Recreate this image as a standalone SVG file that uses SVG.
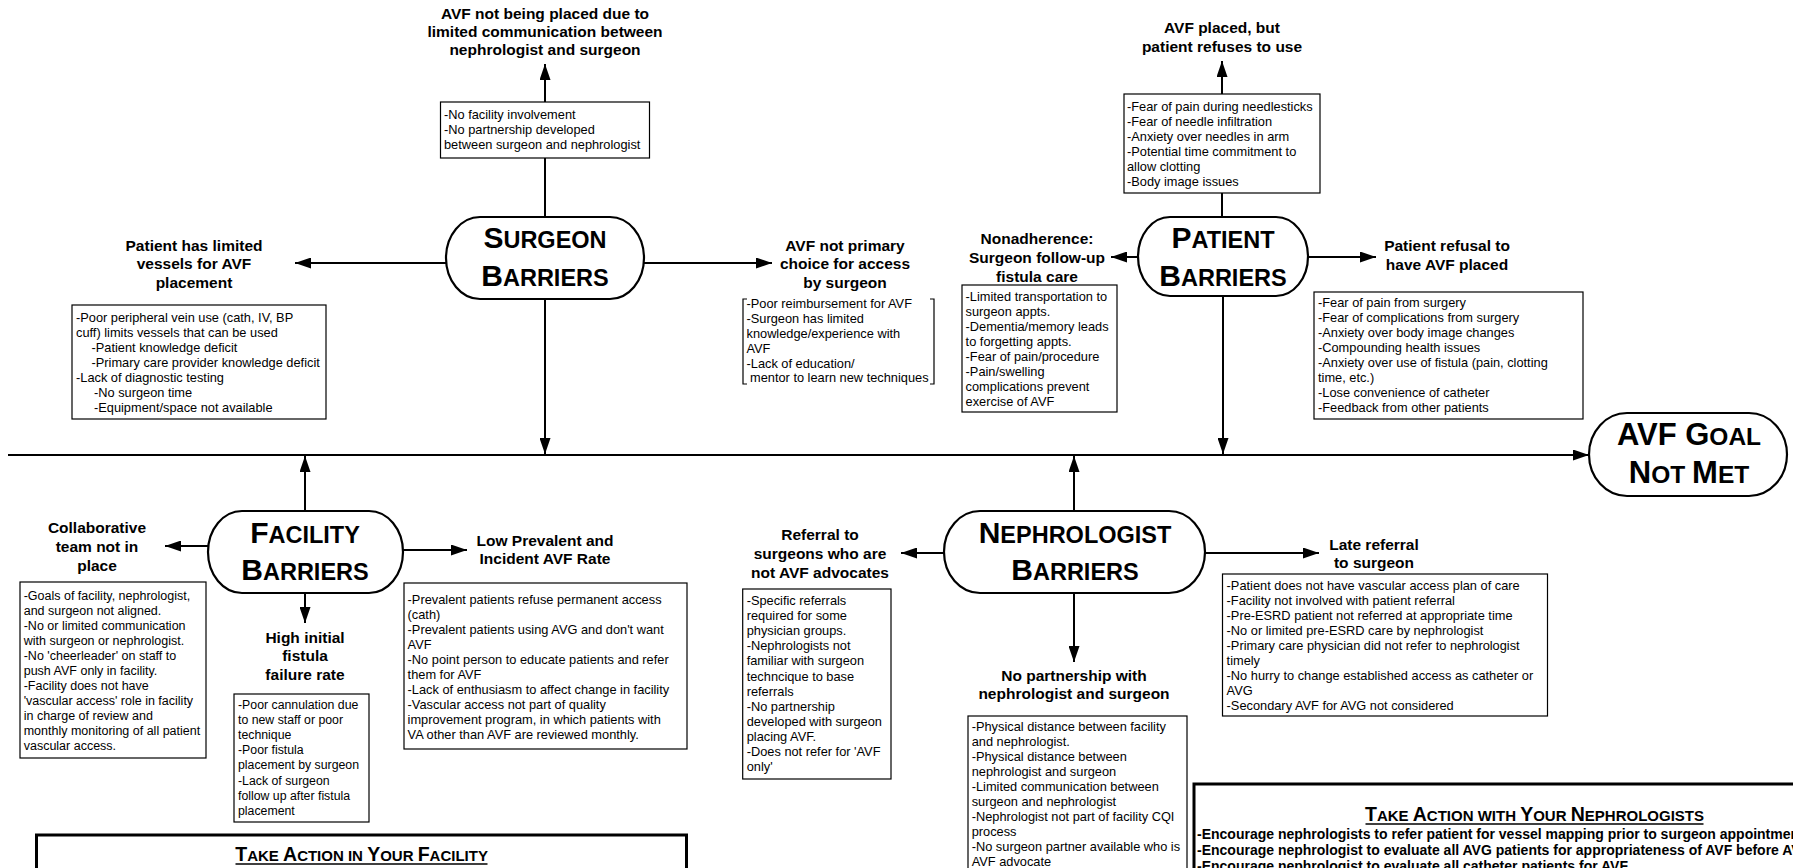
<svg xmlns="http://www.w3.org/2000/svg" width="1793" height="868" viewBox="0 0 1793 868">
<defs>
<style>
text{font-family:"Liberation Sans",Arial,sans-serif;fill:#000}
.lbl{font-weight:bold;font-size:15.5px;text-anchor:middle}
.bt{font-size:12.8px}
.box{fill:#fff;stroke:#000;stroke-width:1.2}
.node{fill:#fff;stroke:#000;stroke-width:2.2}
.nt{font-weight:bold;text-anchor:middle}
.bg{font-size:30px}
.sm{font-size:23.5px}
.conn line{stroke:#000;stroke-width:2;fill:none}
.brk{fill:none;stroke:#000;stroke-width:1.2}
.act{fill:#fff;stroke:#000;stroke-width:3}
.at{font-weight:bold;text-anchor:middle}
.ab{font-size:19.5px}
.as{font-size:15px}
.ul{stroke:#000;stroke-width:1.5}
.al{font-weight:bold;font-size:14px}
</style>
<marker id="ah" viewBox="0 0 16 11" refX="16" refY="5.5" markerWidth="16" markerHeight="11" markerUnits="userSpaceOnUse" orient="auto"><path d="M0,0 L16,5.5 L0,11 z" fill="#000"/></marker>
</defs>
<rect x="0" y="0" width="1793" height="868" fill="#fff"/>

<g id="connectors" class="conn">
<line x1="8" y1="455" x2="1589" y2="455" marker-end="url(#ah)"/>
<line x1="545" y1="217" x2="545" y2="64" marker-end="url(#ah)"/>
<line x1="545" y1="299" x2="545" y2="454" marker-end="url(#ah)"/>
<line x1="446" y1="263" x2="295" y2="263" marker-end="url(#ah)"/>
<line x1="644" y1="263" x2="772" y2="263" marker-end="url(#ah)"/>
<line x1="1222" y1="217" x2="1222" y2="61" marker-end="url(#ah)"/>
<line x1="1223" y1="296" x2="1223" y2="454" marker-end="url(#ah)"/>
<line x1="1138" y1="257" x2="1111" y2="257" marker-end="url(#ah)"/>
<line x1="1308" y1="257" x2="1376" y2="257" marker-end="url(#ah)"/>
<line x1="305" y1="511" x2="305" y2="456" marker-end="url(#ah)"/>
<line x1="208" y1="546" x2="165" y2="546" marker-end="url(#ah)"/>
<line x1="403" y1="550" x2="467" y2="550" marker-end="url(#ah)"/>
<line x1="305" y1="593" x2="305" y2="623" marker-end="url(#ah)"/>
<line x1="1074" y1="511" x2="1074" y2="456" marker-end="url(#ah)"/>
<line x1="944" y1="553" x2="901" y2="553" marker-end="url(#ah)"/>
<line x1="1205" y1="553" x2="1319" y2="553" marker-end="url(#ah)"/>
<line x1="1074" y1="593" x2="1074" y2="662" marker-end="url(#ah)"/>
</g>

<g id="surgeon-barriers">
<rect class="node" x="446" y="217" width="198" height="82" rx="34" ry="41"/>
<text class="nt" x="545" y="248"><tspan class="bg">S</tspan><tspan class="sm">URGEON</tspan></text>
<text class="nt" x="545" y="286"><tspan class="bg">B</tspan><tspan class="sm">ARRIERS</tspan></text>
</g>

<g id="surgeon-communication">
<text class="lbl" x="545" y="18.5">AVF not being placed due to</text>
<text class="lbl" x="545" y="36.8">limited communication between</text>
<text class="lbl" x="545" y="55.1">nephrologist and surgeon</text>
<rect class="box" x="440.5" y="102" width="209" height="56"/>
<text class="bt" x="444" y="119">-No facility involvement</text>
<text class="bt" x="444" y="134">-No partnership developed</text>
<text class="bt" x="444" y="149">between surgeon and nephrologist</text>
</g>

<g id="surgeon-vessels">
<text class="lbl" x="194" y="250.5">Patient has limited</text>
<text class="lbl" x="194" y="269">vessels for AVF</text>
<text class="lbl" x="194" y="287.5">placement</text>
<rect class="box" x="72" y="305" width="254" height="114"/>
<text class="bt" x="76" y="322">-Poor peripheral vein use (cath, IV, BP</text>
<text class="bt" x="76" y="337">cuff) limits vessels that can be used</text>
<text class="bt" x="91.5" y="352">-Patient knowledge deficit</text>
<text class="bt" x="91.5" y="367">-Primary care provider knowledge deficit</text>
<text class="bt" x="76" y="382">-Lack of diagnostic testing</text>
<text class="bt" x="94" y="397">-No surgeon time</text>
<text class="bt" x="94" y="412">-Equipment/space not available</text>
</g>

<g id="surgeon-choice">
<text class="lbl" x="845" y="250.5">AVF not primary</text>
<text class="lbl" x="845" y="269">choice for access</text>
<text class="lbl" x="845" y="287.5">by surgeon</text>
<path class="brk" d="M747,299 H743 V384 H747 M930,299 H934 V384 H930"/>
<text class="bt" x="746.5" y="307.5">-Poor reimbursement for AVF</text>
<text class="bt" x="746.5" y="322.5">-Surgeon has limited</text>
<text class="bt" x="746.5" y="337.5">knowledge/experience with</text>
<text class="bt" x="746.5" y="352.5">AVF</text>
<text class="bt" x="746.5" y="367.5">-Lack of education/</text>
<text class="bt" x="750" y="382">mentor to learn new techniques</text>
</g>

<g id="patient-barriers">
<rect class="node" x="1138" y="217" width="170" height="79" rx="32" ry="39.5"/>
<text class="nt" x="1223" y="248"><tspan class="bg">P</tspan><tspan class="sm">ATIENT</tspan></text>
<text class="nt" x="1223" y="286"><tspan class="bg">B</tspan><tspan class="sm">ARRIERS</tspan></text>
</g>

<g id="patient-refuses-use">
<text class="lbl" x="1222" y="33.3">AVF placed, but</text>
<text class="lbl" x="1222" y="51.7">patient refuses to use</text>
<rect class="box" x="1124" y="94" width="196" height="99"/>
<text class="bt" x="1127" y="110.5">-Fear of pain during needlesticks</text>
<text class="bt" x="1127" y="125.5">-Fear of needle infiltration</text>
<text class="bt" x="1127" y="140.5">-Anxiety over needles in arm</text>
<text class="bt" x="1127" y="155.5">-Potential time commitment to</text>
<text class="bt" x="1127" y="170.5">allow clotting</text>
<text class="bt" x="1127" y="185.5">-Body image issues</text>
</g>

<g id="patient-nonadherence">
<text class="lbl" x="1037" y="243.5">Nonadherence:</text>
<text class="lbl" x="1037" y="262.5">Surgeon follow-up</text>
<text class="lbl" x="1037" y="281.5">fistula care</text>
<rect class="box" x="962" y="285" width="155" height="127"/>
<text class="bt" x="965.6" y="300.5">-Limited transportation to</text>
<text class="bt" x="965.6" y="315.5">surgeon appts.</text>
<text class="bt" x="965.6" y="330.5">-Dementia/memory leads</text>
<text class="bt" x="965.6" y="345.5">to forgetting appts.</text>
<text class="bt" x="965.6" y="360.5">-Fear of pain/procedure</text>
<text class="bt" x="965.6" y="375.5">-Pain/swelling</text>
<text class="bt" x="965.6" y="390.5">complications prevent</text>
<text class="bt" x="965.6" y="405.5">exercise of AVF</text>
</g>

<g id="patient-refusal">
<text class="lbl" x="1447" y="250.5">Patient refusal to</text>
<text class="lbl" x="1447" y="269.5">have AVF placed</text>
<rect class="box" x="1314" y="292" width="269" height="127"/>
<text class="bt" x="1318" y="307">-Fear of pain from surgery</text>
<text class="bt" x="1318" y="322">-Fear of complications from surgery</text>
<text class="bt" x="1318" y="337">-Anxiety over body image changes</text>
<text class="bt" x="1318" y="352">-Compounding health issues</text>
<text class="bt" x="1318" y="367">-Anxiety over use of fistula (pain, clotting</text>
<text class="bt" x="1318" y="382">time, etc.)</text>
<text class="bt" x="1318" y="397">-Lose convenience of catheter</text>
<text class="bt" x="1318" y="412">-Feedback from other patients</text>
</g>

<g id="avf-goal-not-met">
<rect class="node" x="1589" y="413" width="198" height="83" rx="38" ry="41.5"/>
<text class="nt" x="1689" y="445"><tspan style="font-size:31px">AVF G</tspan><tspan style="font-size:24.5px">OAL</tspan></text>
<text class="nt" x="1689" y="483"><tspan style="font-size:31px">N</tspan><tspan style="font-size:24.5px">OT </tspan><tspan style="font-size:31px">M</tspan><tspan style="font-size:24.5px">ET</tspan></text>
</g>

<g id="facility-barriers">
<rect class="node" x="208" y="511" width="195" height="82" rx="34" ry="41"/>
<text class="nt" x="305" y="543"><tspan class="bg">F</tspan><tspan class="sm">ACILITY</tspan></text>
<text class="nt" x="305" y="580"><tspan class="bg">B</tspan><tspan class="sm">ARRIERS</tspan></text>
</g>

<g id="facility-collaborative">
<text class="lbl" x="97" y="532.5">Collaborative</text>
<text class="lbl" x="97" y="551.5">team not in</text>
<text class="lbl" x="97" y="570.5">place</text>
<rect class="box" x="20" y="582" width="186" height="176"/>
<g class="bt" style="font-size:12.5px">
<text x="23.7" y="599.5">-Goals of facility, nephrologist,</text>
<text x="23.7" y="614.5">and surgeon not aligned.</text>
<text x="23.7" y="629.5">-No or limited communication</text>
<text x="23.7" y="644.5">with surgeon or nephrologist.</text>
<text x="23.7" y="659.5">-No 'cheerleader' on staff to</text>
<text x="23.7" y="674.5">push AVF only in facility.</text>
<text x="23.7" y="689.5">-Facility does not have</text>
<text x="23.7" y="704.5">'vascular access' role in facility</text>
<text x="23.7" y="719.5">in charge of review and</text>
<text x="23.7" y="734.5">monthly monitoring of all patient</text>
<text x="23.7" y="749.5">vascular access.</text>
</g>
</g>

<g id="facility-failure">
<text class="lbl" x="305" y="642.5">High initial</text>
<text class="lbl" x="305" y="661">fistula</text>
<text class="lbl" x="305" y="679.5">failure rate</text>
<rect class="box" x="234" y="694" width="135" height="128"/>
<g style="font-size:12.3px">
<text x="238" y="708.5">-Poor cannulation due</text>
<text x="238" y="723.7">to new staff or poor</text>
<text x="238" y="738.9">technique</text>
<text x="238" y="754.1">-Poor fistula</text>
<text x="238" y="769.3">placement by surgeon</text>
<text x="238" y="784.5">-Lack of surgeon</text>
<text x="238" y="799.7">follow up after fistula</text>
<text x="238" y="814.9">placement</text>
</g>
</g>

<g id="facility-rate">
<text class="lbl" x="545" y="545.5">Low Prevalent and</text>
<text class="lbl" x="545" y="564">Incident AVF Rate</text>
<rect class="box" x="404" y="583" width="283" height="166"/>
<g style="font-size:12.8px">
<text x="407.6" y="603.5">-Prevalent patients refuse permanent access</text>
<text x="407.6" y="618.5">(cath)</text>
<text x="407.6" y="633.5">-Prevalent patients using AVG and don't want</text>
<text x="407.6" y="648.5">AVF</text>
<text x="407.6" y="663.5">-No point person to educate patients and refer</text>
<text x="407.6" y="678.5">them for AVF</text>
<text x="407.6" y="693.5">-Lack of enthusiasm to affect change in facility</text>
<text x="407.6" y="708.5">-Vascular access not part of quality</text>
<text x="407.6" y="723.5">improvement program, in which patients with</text>
<text x="407.6" y="738.5">VA other than AVF are reviewed monthly.</text>
</g>
</g>

<g id="nephrologist-barriers">
<rect class="node" x="944" y="511" width="261" height="82" rx="36" ry="41"/>
<text class="nt" x="1075" y="543"><tspan class="bg">N</tspan><tspan class="sm">EPHROLOGIST</tspan></text>
<text class="nt" x="1075" y="580"><tspan class="bg">B</tspan><tspan class="sm">ARRIERS</tspan></text>
</g>

<g id="nephrologist-referral">
<text class="lbl" x="820" y="539.5">Referral to</text>
<text class="lbl" x="820" y="558.5">surgeons who are</text>
<text class="lbl" x="820" y="577.5">not AVF advocates</text>
<rect class="box" x="742.7" y="589" width="148.3" height="190"/>
<g style="font-size:12.8px">
<text x="746.7" y="605">-Specific referrals</text>
<text x="746.7" y="620.1">required for some</text>
<text x="746.7" y="635.2">physician groups.</text>
<text x="746.7" y="650.3">-Nephrologists not</text>
<text x="746.7" y="665.4">familiar with surgeon</text>
<text x="746.7" y="680.5">techncique to base</text>
<text x="746.7" y="695.6">referrals</text>
<text x="746.7" y="710.7">-No partnership</text>
<text x="746.7" y="725.8">developed with surgeon</text>
<text x="746.7" y="740.9">placing AVF.</text>
<text x="746.7" y="756">-Does not refer for 'AVF</text>
<text x="746.7" y="771.1">only'</text>
</g>
</g>

<g id="nephrologist-partnership">
<text class="lbl" x="1074" y="680.5">No partnership with</text>
<text class="lbl" x="1074" y="699">nephrologist and surgeon</text>
<rect class="box" x="968" y="716" width="219" height="170"/>
<g style="font-size:12.8px">
<text x="971.7" y="731">-Physical distance between facility</text>
<text x="971.7" y="746">and nephrologist.</text>
<text x="971.7" y="761">-Physical distance between</text>
<text x="971.7" y="776">nephrologist and surgeon</text>
<text x="971.7" y="791">-Limited communication between</text>
<text x="971.7" y="806">surgeon and nephrologist</text>
<text x="971.7" y="821">-Nephrologist not part of facility CQI</text>
<text x="971.7" y="836">process</text>
<text x="971.7" y="851">-No surgeon partner available who is</text>
<text x="971.7" y="866">AVF advocate</text>
</g>
</g>

<g id="nephrologist-late">
<text class="lbl" x="1374" y="549.5">Late referral</text>
<text class="lbl" x="1374" y="568">to surgeon</text>
<rect class="box" x="1222.5" y="574" width="325" height="142"/>
<g style="font-size:12.8px">
<text x="1226.6" y="589.5">-Patient does not have vascular access plan of care</text>
<text x="1226.6" y="604.5">-Facility not involved with patient referral</text>
<text x="1226.6" y="619.5">-Pre-ESRD patient not referred at appropriate time</text>
<text x="1226.6" y="634.5">-No or limited pre-ESRD care by nephrologist</text>
<text x="1226.6" y="649.5">-Primary care physician did not refer to nephrologist</text>
<text x="1226.6" y="664.5">timely</text>
<text x="1226.6" y="679.5">-No hurry to change established access as catheter or</text>
<text x="1226.6" y="694.5">AVG</text>
<text x="1226.6" y="709.5">-Secondary AVF for AVG not considered</text>
</g>
</g>

<g id="take-action-facility">
<rect class="act" x="36.5" y="835" width="650" height="60"/>
<text class="at" x="361.6" y="861"><tspan class="ab">T</tspan><tspan class="as">AKE </tspan><tspan class="ab">A</tspan><tspan class="as">CTION IN </tspan><tspan class="ab">Y</tspan><tspan class="as">OUR </tspan><tspan class="ab">F</tspan><tspan class="as">ACILITY</tspan></text>
<line class="ul" x1="235.5" y1="864" x2="487.5" y2="864"/>
</g>

<g id="take-action-nephrologists">
<rect class="act" x="1194" y="784" width="640" height="100"/>
<text class="at" x="1534.5" y="821"><tspan class="ab">T</tspan><tspan class="as">AKE </tspan><tspan class="ab">A</tspan><tspan class="as">CTION WITH </tspan><tspan class="ab">Y</tspan><tspan class="as">OUR </tspan><tspan class="ab">N</tspan><tspan class="as">EPHROLOGISTS</tspan></text>
<line class="ul" x1="1365.5" y1="824" x2="1703.5" y2="824"/>
<text class="al" x="1197" y="838.5">-Encourage nephrologists to refer patient for vessel mapping prior to surgeon appointment</text>
<text class="al" x="1197" y="854.5">-Encourage nephrologist to evaluate all AVG patients for appropriateness of AVF before AVG</text>
<text class="al" x="1197" y="870.5">-Encourage nephrologist to evaluate all catheter patients for AVF</text>
</g>
</svg>
